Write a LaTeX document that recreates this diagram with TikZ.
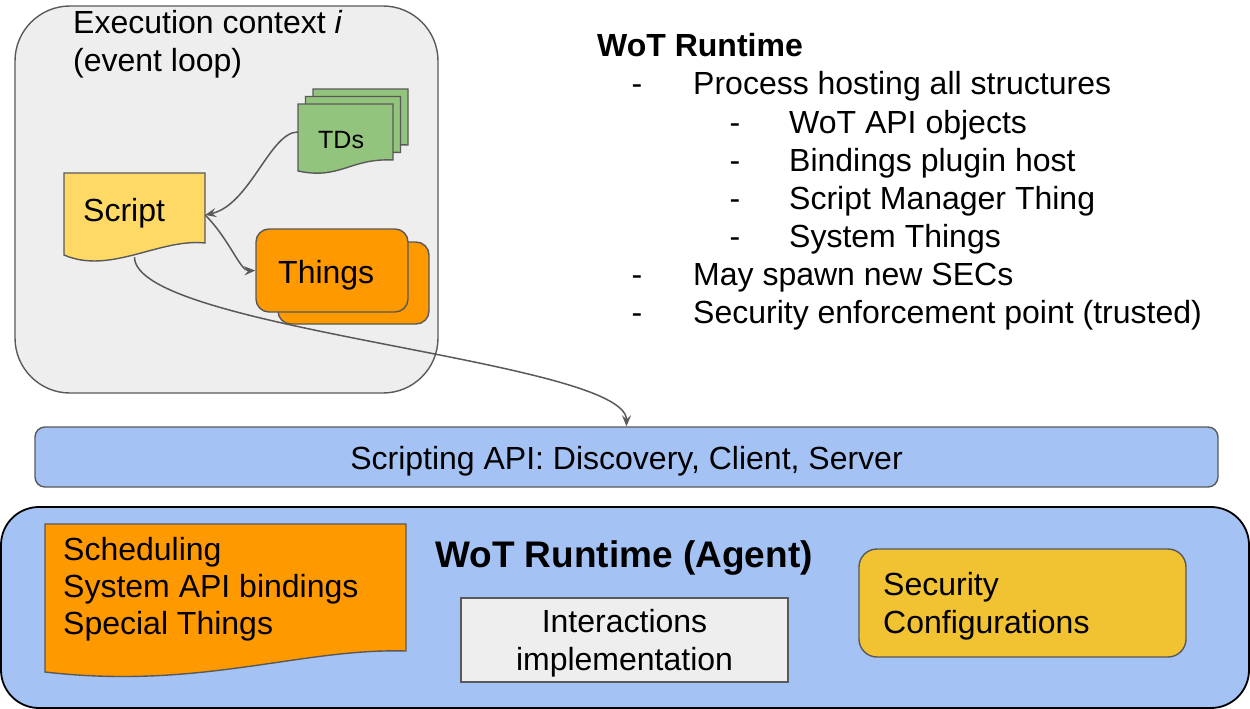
\documentclass[tikz,border=0pt]{standalone}
\usepackage{fontspec}
\setmainfont{Liberation Sans}
\usetikzlibrary{arrows.meta,fit}

\definecolor{edgegray}{HTML}{595959}
\definecolor{ctxfill}{HTML}{EEEEEE}
\definecolor{tdfill}{HTML}{93C47D}
\definecolor{scriptfill}{HTML}{FFD966}
\definecolor{thingfill}{HTML}{FF9900}
\definecolor{apifill}{HTML}{A4C2F4}
\definecolor{secfill}{HTML}{F1C232}

\tikzset{
  shapeline/.style={draw=edgegray, line width=1.4pt},
  area/.style={fit={#1}, inner sep=0pt},
  conn/.style={draw=edgegray, line width=1.5pt, -{Stealth[length=11pt,width=9pt,inset=4pt]}},
  lbl/.style={inner sep=0pt, anchor=base west, font=\fontsize{32}{38}\selectfont},
  lblc/.style={lbl, anchor=base},
  bold/.style={font=\bfseries\fontsize{32}{38}\selectfont},
}

\begin{document}
\begin{tikzpicture}[x=1pt,y=-1pt]
\useasboundingbox (0,0) rectangle (1250,709);

% ---------- runtime agent frame ----------
\node[area={(1,507) (1249,708)}, draw=black, line width=1.8pt, fill=apifill,
      rounded corners=38pt] (agent) {};

% ---------- execution context ----------
\node[area={(15,6) (438,393)}, shapeline, fill=ctxfill, rounded corners=55pt] (ctx) {};
\node[lbl] (ctxtitle) at (73,34) {Execution context \textit{i}};
\node[lbl] (ctxsub) at (73,72) {(event loop)};

% stack of thing descriptions (three sheets)
\foreach \dx/\dy in {15/-15, 7.5/-7.5, 0/0}{
  \begin{scope}[shift={(\dx,\dy)}]
    \path[shapeline, fill=tdfill] (298,104) -- (393,104) -- (393,160)
      .. controls (350,158) and (340,180) .. (298,171) -- cycle;
  \end{scope}
}
\node[area={(298,104) (393,160)}] (tds) {};
\node[lbl, font=\fontsize{25}{30}\selectfont] (tdtext) at (318,148) {TDs};

% script document
\path[shapeline, fill=scriptfill] (64,173) -- (205,173) -- (205,243)
  .. controls (160,238) and (110,275) .. (64,255) -- cycle;
\node[area={(64,173) (205,257)}] (script) {};
\node[lbl] (scripttext) at (83,221) {Script};

% stack of things
\node[area={(278,242) (429,324)}, shapeline, fill=thingfill, rounded corners=13pt] (thingsback) {};
\node[area={(256,229) (408,312)}, shapeline, fill=thingfill, rounded corners=13pt] (things) {};
\node[lbl] (thingstext) at (278,283) {Things};

% connectors inside the context
\draw[conn] (tds.west) .. controls (270,132) and (250,205) .. (script.east);
\draw[conn] (script.east) .. controls (230,240) and (240,271) .. (things.west);

% ---------- scripting API ----------
\node[area={(35,427) (1218,487)}, shapeline, fill=apifill, rounded corners=10pt] (api) {};
\node[lblc] (apitext) at (626.5,469) {Scripting API: Discovery, Client, Server};

\draw[conn] (script.south) .. controls (135,330) and (626.5,360) .. (api.north);

% ---------- agent contents ----------
\path[shapeline, fill=thingfill] (45,524) -- (406,524) -- (406,651)
  .. controls (300,648) and (200,690) .. (45,672) -- cycle;
\node[lbl] (sched) at (63,560) {Scheduling};
\node[lbl] (sysapi) at (63,597) {System API bindings};
\node[lbl] (special) at (63,634) {Special Things};

\node[lblc, font=\bfseries\fontsize{37}{44}\selectfont] (agenttitle) at (624,567) {WoT Runtime (Agent)};

\node[area={(461,598) (788,682)}, shapeline, fill=ctxfill] (interact) {};
\node[lblc] (interact1) at (624.5,632) {Interactions};
\node[lblc] (interact2) at (624.5,670) {implementation};

\node[area={(859,549) (1186,657)}, shapeline, fill=secfill, rounded corners=18pt] (security) {};
\node[lbl] (sec1) at (883,595) {Security};
\node[lbl] (sec2) at (883,633) {Configurations};

% ---------- runtime description ----------
\node[lbl, bold] (rthead) at (597,57) {WoT Runtime};
\node[lbl] (d1) at (631.5,95) {-};  \node[lbl] (t1) at (693,95) {Process hosting all structures};
\node[lbl] (d2) at (729.5,133) {-}; \node[lbl] (t2) at (789,133) {WoT API objects};
\node[lbl] (d3) at (729.5,171) {-}; \node[lbl] (t3) at (789,171) {Bindings plugin host};
\node[lbl] (d4) at (729.5,209) {-}; \node[lbl] (t4) at (789,209) {Script Manager Thing};
\node[lbl] (d5) at (729.5,247) {-}; \node[lbl] (t5) at (789,247) {System Things};
\node[lbl] (d6) at (631.5,285) {-}; \node[lbl] (t6) at (693,285) {May spawn new SECs};
\node[lbl] (d7) at (631.5,323) {-}; \node[lbl] (t7) at (693,323) {Security enforcement point (trusted)};
\end{tikzpicture}
\end{document}
